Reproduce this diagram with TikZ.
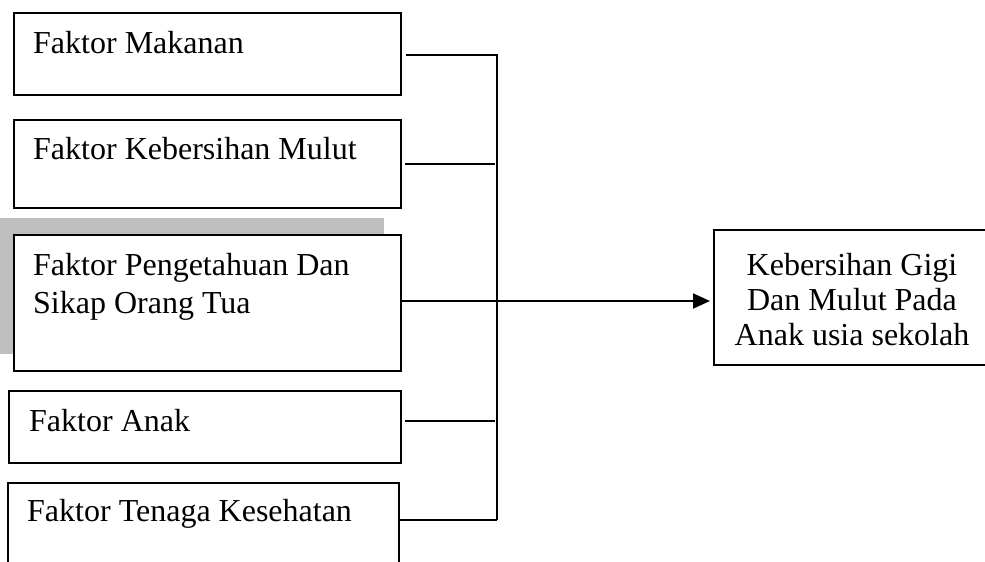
\documentclass[tikz,border=0pt]{standalone}
\usepackage{fontspec}
\setmainfont{Liberation Serif}
\usetikzlibrary{arrows.meta}
\tikzset{
  box/.style={draw=black, line width=2pt, fill=white, rectangle, inner sep=0pt, anchor=north west},
  txt/.style={inner sep=0pt, anchor=base west, font=\fontsize{32}{37}\selectfont},
  ctxt/.style={inner sep=0pt, anchor=base, font=\fontsize{32}{37}\selectfont},
  link/.style={draw=black, line width=2pt},
}
\begin{document}
\begin{tikzpicture}[x=1pt, y=-1pt]
\useasboundingbox (0,0) rectangle (985,562);

% shading behind the third factor
\fill[black!25] (0,218) rectangle (384,354);

% factor boxes
\node[box, minimum width=387pt, minimum height=82pt] (b1) at (13,12) {};
\node[box, minimum width=387pt, minimum height=88pt] (b2) at (13,119) {};
\node[box, minimum width=387pt, minimum height=136pt] (b3) at (13,234) {};
\node[box, minimum width=392pt, minimum height=72pt] (b4) at (8,390) {};
\node[box, minimum width=391pt, minimum height=90pt] (b5) at (7,482) {};

\node[txt] (t1) at (33,53) {Faktor Makanan};
\node[txt] (t2) at (33,159) {Faktor Kebersihan Mulut};
\node[txt] (t3a) at (33,275) {Faktor Pengetahuan Dan};
\node[txt] (t3b) at (33,313) {Sikap Orang Tua};
\node[txt] (t4) at (29,431) {Faktor Anak};
\node[txt] (t5) at (27,521) {Faktor Tenaga Kesehatan};

% outcome box
\node[box, minimum width=274pt, minimum height=135pt] (out) at (713,229) {};
\node[ctxt] (o1) at (852,275) {Kebersihan Gigi};
\node[ctxt] (o2) at (852,310) {Dan Mulut Pada};
\node[ctxt] (o3) at (852,345) {Anak usia sekolah};

% collecting bus
\coordinate (bt) at (497,54);
\coordinate (bb) at (497,520);
\draw[link] (bt) -- (bb);

\draw[link] ([xshift=4pt,yshift=-1pt]b1.east) -- ([yshift=-1pt]b1.east -| bt);
\draw[link] ([xshift=3pt]b2.east) -- ([xshift=-2pt]b2.east -| bt);
\draw[link] ([xshift=3pt,yshift=6pt]b4.east) -- ([xshift=-2pt,yshift=6pt]b4.east -| bt);
\draw[link] (b5.north east |- bb) -- (bb);

% arrow to the outcome
\draw[link, -{Triangle[length=17pt,width=15pt]}] ([yshift=2pt]b3.east) -- ([yshift=2pt,xshift=-3pt]b3.east -| out.west);
\end{tikzpicture}
\end{document}
